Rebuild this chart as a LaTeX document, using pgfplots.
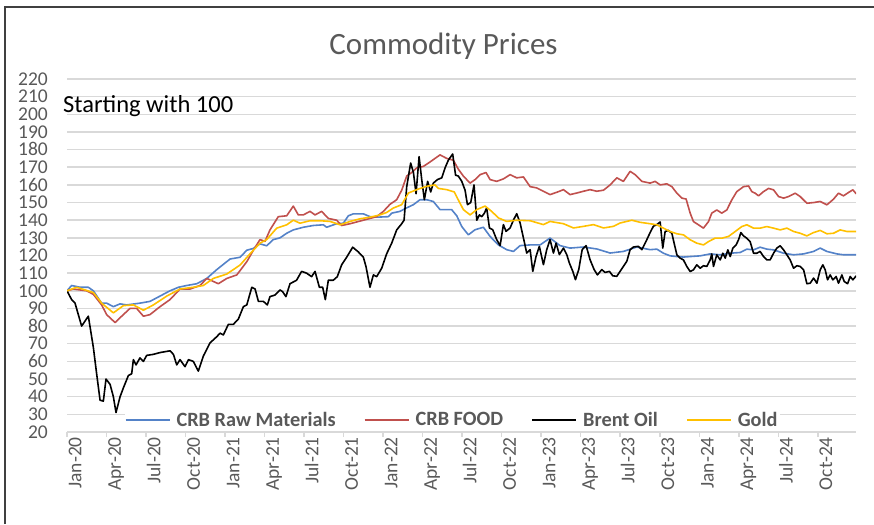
\documentclass[border=0pt]{standalone}
\usepackage{pgfplots}
\pgfplotsset{compat=1.18}
\usepackage{fontspec}
\setmainfont{Carlito}
\definecolor{crbblue}{RGB}{84,130,200}
\definecolor{crbred}{RGB}{192,80,77}
\definecolor{goldc}{RGB}{255,192,0}
\definecolor{gridgray}{RGB}{217,217,217}
\definecolor{textgray}{RGB}{89,89,89}
\definecolor{framegray}{RGB}{64,64,64}
\begin{document}
\begin{tikzpicture}[x=1pt,y=1pt]
\path[use as bounding box] (0,0) rectangle (874,524);
\draw[framegray, line width=1.5pt] (5,0) -- (5,517) -- (874,517);
\begin{axis}[
  at={(67pt,92pt)}, anchor=south west,
  scale only axis, width=789pt, height=353pt,
  xmin=0, xmax=59.9, ymin=20, ymax=220,
  ytick={20,30,...,220},
  xtick={0,3,...,57},
  xticklabels={Jan-20,Apr-20,Jul-20,Oct-20,Jan-21,Apr-21,Jul-21,Oct-21,Jan-22,Apr-22,Jul-22,Oct-22,Jan-23,Apr-23,Jul-23,Oct-23,Jan-24,Apr-24,Jul-24,Oct-24},
  /pgf/number format/assume math mode=true,
  axis x line*=bottom, axis y line*=left,
  y axis line style={draw=none},
  x axis line style={draw=gridgray, line width=1.5pt},
  ytick style={draw=none},
  xtick style={draw=gridgray, line width=1.5pt},
  xtick align=outside, major tick length=5pt,
  ymajorgrids, grid style={draw=gridgray, line width=1.5pt},
  tick label style={text=textgray, font=\fontsize{19.5}{19.5}\selectfont},
  yticklabel style={anchor=east, inner sep=0pt, xshift=-19pt, text height=12.5pt, text depth=0pt},
  xticklabel style={rotate=90, anchor=east, inner sep=0pt, text height=12.5pt, text depth=0pt, yshift=-8pt},
  legend style={at={(0.488,0.034)}, anchor=center, legend columns=4, draw=none, fill=white,
    font=\bfseries\fontsize{20.3}{20.3}\selectfont, text=textgray, inner sep=0pt,
    /tikz/every odd column/.append style={column sep=4pt},
    /tikz/every even column/.append style={column sep=26pt}},
  legend image code/.code={\draw[#1, line width=2pt] (0pt,0pt) -- (44pt,0pt);},
  every axis plot/.append style={line width=1.6pt, line join=round},
]
\addplot[crbblue] coordinates {
(0,100)(0.35,103)(1.0,102)(1.62,102)(2.0,100)(2.63,93)(3.01,93)(3.52,91)(4.03,92.6)(4.53,92)
(5.54,93)(6.3,94)(7.06,97)(7.82,100)(8.46,102)(9.09,103)(9.85,104)(10.61,107)(11.37,112)(12.38,118)
(13.14,119)(13.65,123)(14.15,124)(14.65,126.6)(15.16,125.5)(15.66,129)(16.17,130)(16.68,132.6)(17.18,134.5)(17.94,136)
(18.7,137)(19.46,137.4)(19.71,136)(20.47,138)(20.98,138.3)(21.36,142.5)(21.74,143.6)(22.5,143.6)(23.0,142)(23.51,141.7)
(24.4,142)(24.65,144)(25.28,145)(25.79,147)(26.3,148.8)(26.8,151.6)(27.31,151.6)(27.81,150.6)(28.32,146)(28.7,146)
(29.2,146)(29.59,142.5)(29.97,136.4)(30.47,131.7)(30.98,134.6)(31.61,136)(32.12,130.8)(32.75,126)(33.38,123.3)(33.89,122.3)
(34.4,125.6)(35.16,126)(35.92,126)(36.67,129.9)(37.43,125.6)(38.19,124.2)(39.21,124.8)(40.22,123.7)(41.23,121.4)(42.24,122.3)
(43.26,124.8)(44.27,123.3)(44.78,123.6)(45.28,121.3)(45.79,119.8)(46.3,119.4)(46.8,119.1)(47.31,119.4)(48.07,119.8)(48.83,120.9)
(49.59,120.4)(50.35,121.3)(51.1,121.7)(51.61,123.6)(52.12,123.2)(52.62,124.7)(53.13,123.6)(53.64,123.2)(54.4,121.3)(55.16,120.4)
(55.92,120.9)(56.68,122.3)(57.18,124.2)(57.69,122.3)(58.45,120.9)(58.95,120.4)(59.46,120.4)(59.9,120.4)
};
\addlegendentry{CRB Raw Materials}
\addplot[crbred] coordinates {
(0,100)(0.48,101)(1.49,100)(2.0,98)(2.63,92)(3.01,86.5)(3.65,82)(4.15,85.6)(4.78,90)(5.29,90)
(5.8,85.6)(6.3,86.5)(7.06,91)(7.82,95)(8.58,101)(9.34,101)(10.1,103)(10.61,107)(11.49,104)(12.13,107)
(12.89,109)(13.65,116.5)(14.15,123)(14.65,129)(15.03,128)(15.41,134.5)(16.04,142)(16.68,142.5)(17.18,148)(17.56,143)
(17.94,143)(18.45,145)(18.83,143)(19.33,145)(19.84,141)(20.47,140)(20.85,137)(21.49,138)(21.99,139)(22.5,140)
(23.0,141)(23.51,142)(24.02,145)(24.52,149)(25.03,151.6)(25.41,157)(25.79,165)(26.17,167)(26.55,169.6)(27.06,170.5)
(27.56,173)(27.94,175)(28.32,177)(28.83,175)(29.33,174)(29.7,169)(30.09,165)(30.6,161)(30.98,163)(31.36,165.8)
(31.81,167)(32.12,163)(32.62,162)(33.13,163.4)(33.64,165.8)(34.14,164)(34.65,164.5)(35.16,159)(35.66,158.3)(36.17,156.4)
(36.67,154.5)(37.18,155.8)(37.69,157.3)(38.19,154.5)(38.7,155.4)(39.21,156.4)(39.71,157.3)(40.22,156.4)(40.73,157)(41.23,160)
(41.74,164)(42.24,162)(42.75,167.7)(43.13,165.8)(43.64,162)(44.27,161)(44.65,162)(45.03,160)(45.54,160.6)(45.92,159)
(46.3,155.3)(46.68,152.5)(47.0,152)(47.31,144)(47.56,139.2)(47.94,137.4)(48.32,135.5)(48.7,139.2)(48.95,144)(49.33,145.8)
(49.71,144)(50.09,145.8)(50.47,151.5)(50.85,156.2)(51.36,159)(51.74,159.4)(51.99,156.2)(52.24,155.3)(52.5,153.8)(52.88,156.2)
(53.26,158)(53.64,157.2)(54.02,153.4)(54.4,152.5)(54.78,153.4)(55.28,155.3)(55.66,153.4)(56.17,149.6)(56.68,150)(57.18,150.6)
(57.69,148.7)(58.19,151.9)(58.57,155.3)(58.95,153.8)(59.33,155.7)(59.66,157.2)(59.92,154.9)
};
\addlegendentry{CRB FOOD}
\addplot[black] coordinates {
(0,100)(0.35,95)(0.61,93)(1.11,80)(1.62,85.6)(2.0,68)(2.25,53)(2.51,38)(2.76,37.5)(2.96,50)
(3.27,47)(3.52,40)(3.72,31)(4.03,40)(4.28,45)(4.66,52)(4.91,53)(5.04,61)(5.24,58)(5.54,62)
(5.80,60)(6.05,63.4)(6.56,64)(7.06,65)(7.82,66)(8.08,64)(8.33,58)(8.58,61)(8.96,57)(9.22,61)
(9.59,60)(9.97,54.5)(10.35,63)(10.86,70.5)(11.37,74)(11.62,76)(11.87,75)(12.25,81)(12.63,81)(13.01,84)
(13.39,91)(13.65,92)(14.03,102)(14.28,101)(14.53,94)(14.91,94)(15.21,92)(15.41,96.7)(15.79,97.6)(16.17,100.5)
(16.37,99.5)(16.62,96.7)(16.93,104)(17.43,106)(17.81,111)(18.19,110)(18.57,108)(18.83,111)(19.16,102)(19.41,102)
(19.61,95)(19.84,106)(20.22,106)(20.52,108)(20.85,114.7)(21.23,119)(21.69,124.7)(22.12,122)(22.5,119)(22.7,113.7)
(23.0,102)(23.26,109)(23.51,108)(23.89,112.8)(24.27,121)(24.65,127)(25.03,134.5)(25.41,138)(25.59,140)(25.79,159)
(26.09,172.4)(26.3,167)(26.5,155)(26.73,176)(26.93,163)(27.13,151.6)(27.38,162)(27.61,156)(27.81,161)(28.12,163)
(28.45,164)(28.7,169.6)(28.95,174)(29.28,177.5)(29.5,165.5)(29.71,165)(29.97,162)(30.22,157)(30.4,148.8)(30.65,150)
(30.9,160)(31.11,140)(31.31,143)(31.49,142)(31.69,144)(31.86,147)(32.07,135.6)(32.32,134.6)(32.62,129)(32.88,125.6)
(33.13,137.5)(33.33,133.7)(33.64,135.6)(33.89,140)(34.14,143.7)(34.4,138.4)(34.65,130)(34.9,121.4)(35.16,123.3)(35.36,111)
(35.61,119.5)(35.86,125.2)(36.17,114.8)(36.42,123.3)(36.67,129)(36.93,121.4)(37.13,127)(37.38,120.5)(37.69,124.2)(37.94,120.5)
(38.14,115.7)(38.4,111)(38.6,106.3)(38.85,112)(39.11,123.3)(39.41,125.6)(39.71,117.6)(40.02,112)(40.27,109)(40.6,112)
(40.85,110.4)(41.18,111)(41.43,108.5)(41.74,108.2)(41.99,111)(42.24,113.8)(42.5,116.7)(42.75,123.3)(43.0,124.8)(43.38,125.2)
(43.64,123.3)(44.02,129)(44.27,133)(44.52,136.6)(44.78,137.5)(45.03,139)(45.23,124.2)(45.41,133.6)(45.66,134.2)(45.92,132.6)
(46.09,127)(46.3,120.4)(46.55,118.5)(46.8,117.5)(47.05,113.8)(47.31,110.9)(47.56,111.9)(47.81,114.7)(48.07,112.8)(48.32,114.2)
(48.57,113.8)(48.83,117.5)(48.95,120.9)(49.08,113.8)(49.33,120.4)(49.59,117.5)(49.79,121.3)(49.97,118.5)(50.17,123.2)(50.35,119.4)
(50.55,124.2)(50.8,126)(50.98,128.9)(51.16,133)(51.36,131.1)(51.61,129.8)(51.86,127.9)(52.12,121.3)(52.37,121.3)(52.62,122.3)
(52.88,119.4)(53.13,117.5)(53.38,117.5)(53.64,121.3)(53.89,124.2)(54.14,125.5)(54.4,123.2)(54.65,120.4)(54.9,117.5)(55.16,112.8)
(55.41,114.2)(55.66,113.8)(55.92,111.9)(56.17,104)(56.42,104.3)(56.68,107.2)(56.93,104.3)(57.18,111.9)(57.38,114.7)(57.56,111.9)
(57.74,106.2)(57.94,109)(58.14,106.2)(58.39,108.1)(58.57,104.3)(58.83,109)(59.0,105.3)(59.26,104)(59.46,108.1)(59.66,106.2)
(59.92,108.5)
};
\addlegendentry{Brent Oil}
\addplot[goldc] coordinates {
(0,100)(0.73,102)(2.0,99)(2.63,93)(3.52,87.5)(4.28,91.6)(5.04,92)(5.8,89)(6.56,92)(7.57,97)
(8.58,101)(9.59,102)(10.35,103)(11.11,107)(12.13,109.5)(13.14,114.6)(13.9,121)(14.65,127)(15.16,129)(15.92,135.5)
(16.68,137.4)(17.18,140)(17.69,138.3)(18.45,139.7)(19.21,139.7)(19.97,139.3)(20.73,137.4)(21.49,139.3)(22.25,140.8)(23.0,141.7)
(23.76,143)(24.27,144.4)(24.78,146.9)(25.41,148.8)(25.92,155.4)(26.55,157.3)(27.31,159.2)(27.94,160)(28.2,158)(28.83,157.3)
(29.4,156)(29.7,151.6)(30.09,146)(30.6,143)(31.11,146)(31.74,148)(32.24,145)(32.75,141.3)(33.38,139.3)(34.14,140)
(35.16,139.7)(36.17,137.5)(36.67,139.3)(37.69,138)(38.45,135.6)(39.21,136.5)(39.97,137.5)(40.73,135.6)(41.48,136.5)(41.99,138.4)
(42.88,140)(43.51,138.8)(44.27,138)(44.78,137.4)(45.28,135.5)(45.79,133.6)(46.3,132.3)(46.8,131.7)(47.31,128.9)(47.81,127)
(48.32,126)(48.7,127.9)(49.2,129.8)(49.71,129.8)(50.22,130.8)(50.73,133.6)(51.23,136.4)(51.61,137.4)(52.12,135.5)(52.62,135.5)
(53.13,136.4)(53.64,135.5)(54.14,134.5)(54.65,135.5)(55.16,133.6)(55.66,132.6)(56.17,131.1)(56.68,133)(57.18,134.2)(57.69,132.3)
(58.19,132.6)(58.7,134.5)(59.21,133.6)(59.92,133.6)
};
\addlegendentry{Gold}
\end{axis}
\node[anchor=base, text=textgray, font=\fontsize{31}{31}\selectfont] at (443.5,469) {Commodity Prices};
\node[anchor=base west, inner sep=0pt, font=\fontsize{24.5}{24.5}\selectfont] at (63,411) {Starting with 100};
\end{tikzpicture}
\end{document}
